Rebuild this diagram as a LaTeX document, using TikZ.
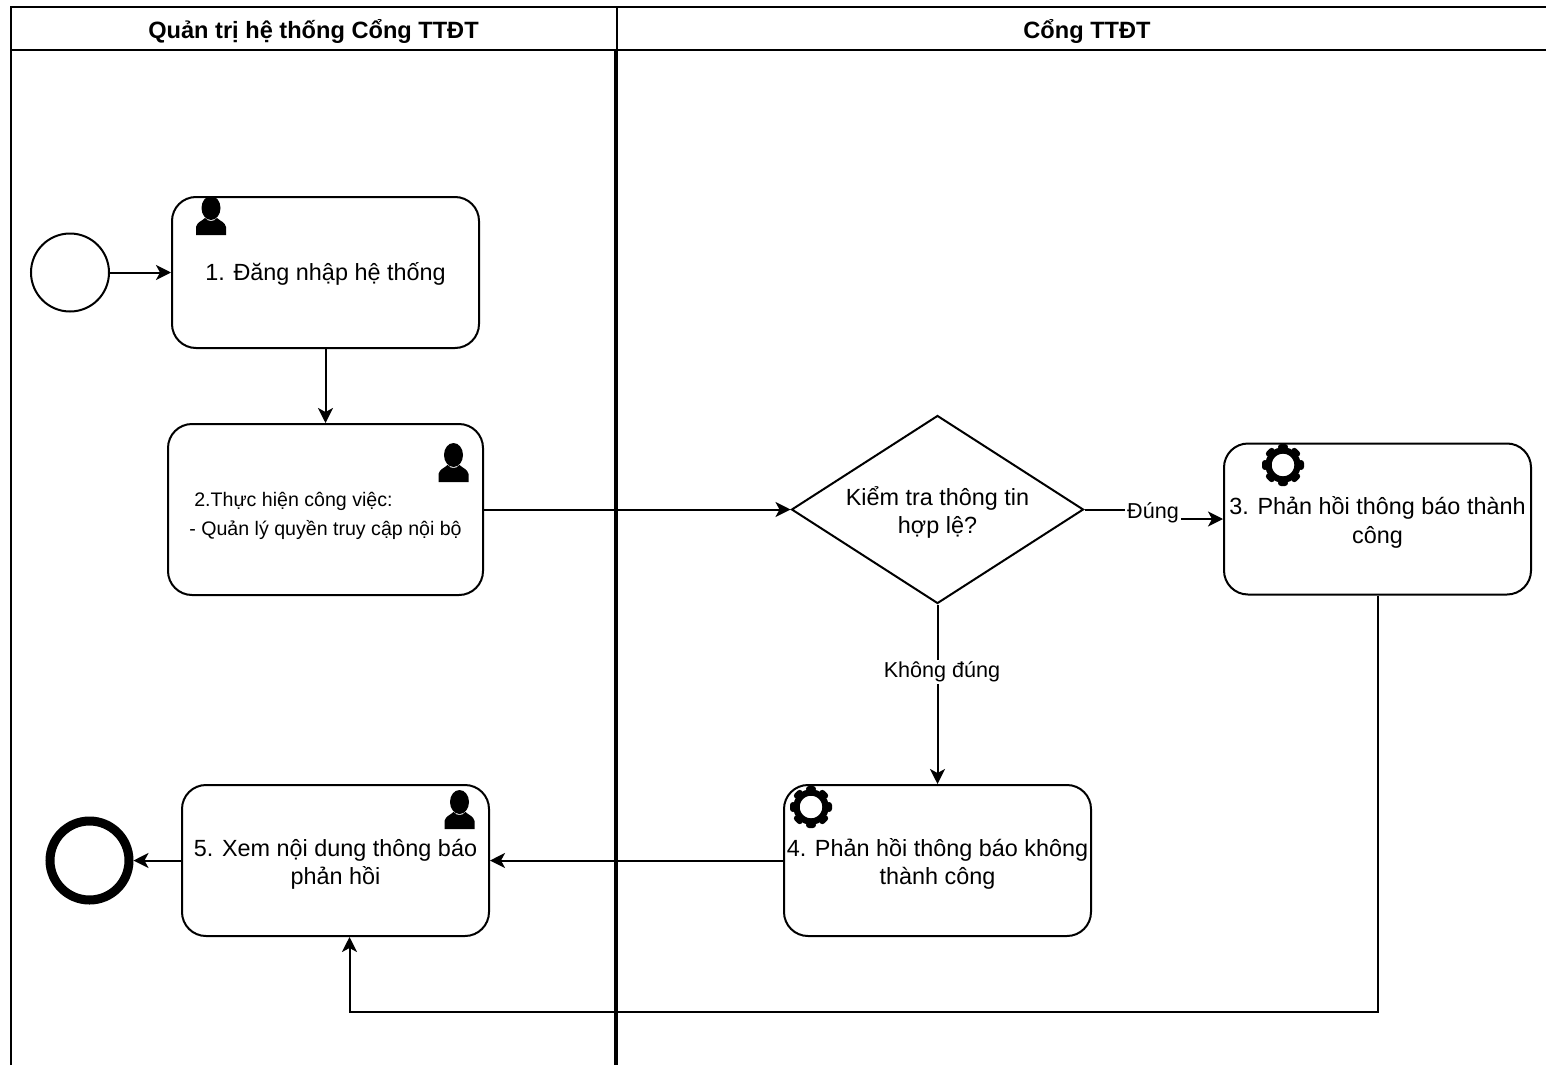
\documentclass[tikz,border=0pt]{standalone}
\usepackage{fontspec}
\setmainfont{Liberation Sans}
\usetikzlibrary{arrows.meta,shapes.geometric,positioning}
\newcommand{\usericon}[1]{
    \fill[black,shift={(#1)}] (0,-8) ellipse (9.5 and 12)
    (-15,19) -- (-15,11) .. controls (-14,6) and (-9,5) .. (-6,2)
    .. controls (-3,6) and (3,6) .. (6,2) .. controls (9,5) and (14,6) .. (15,11) -- (15,19) -- cycle;
}
\newcommand{\gearicon}[1]{
    \draw[black,line width=3.2pt,shift={(#1)}] (0,0) circle (14.5);
    \foreach \a in {0,45,...,315}
        \fill[black,shift={(#1)},rotate=\a,rounded corners=1.5pt] (-5,-21) rectangle (5,-15);
}
\newcommand{\topgap}[1]{\rule{0pt}{#1}}
\begin{document}
\begin{tikzpicture}[x=0.5pt,y=-0.5pt]
    \tikzstyle{boxtext}=[align=center, inner sep=0pt, font=\fontsize{11.7}{14.2}\selectfont]
    \tikzstyle{task}=[boxtext, rectangle, rounded corners=12pt, draw=black, line width=1pt, minimum width=153.5pt, minimum height=75.5pt]
    \tikzstyle{connect}=[-{Stealth[length=7.5pt,width=7.5pt,inset=2pt]}, line width=1pt]
    \tikzstyle{lane}=[line width=1pt]
    \tikzstyle{lanetitle}=[font=\bfseries\fontsize{11.8}{14}\selectfont]
    \tikzstyle{lbl}=[fill=white, inner sep=1pt, font=\fontsize{10.8}{13}\selectfont]
    \useasboundingbox (0,0) rectangle (1546,1065);
    % pool
    \coordinate (nw) at (11,7);
    \coordinate (ne) at (1546,7);
    \coordinate (sw) at (11,1065);
    \coordinate (hl) at (11,50);
    \coordinate (hr) at (1546,50);
    \coordinate (sm) at (617,7);
    \coordinate (hm) at (617,50);
    \coordinate (bm) at (616,1065);
    \draw[lane] (sw) -- (nw) -- (ne) (hl) -- (hr) (sm) -- (hm);
    \draw[line width=2pt] (bm |- hm) -- (bm);
    \node[lanetitle] (lanea) at (313.5,31) {Quản trị hệ thống Cổng TTĐT};
    \node[lanetitle] (laneb) at (1087,31) {Cổng TTĐT};
    % nodes
    \node[circle, draw=black, line width=1pt, minimum size=39pt, inner sep=0pt] (start) at (70,272.5) {};
    \node[task] (login) at (325.5,272.5) {\topgap{10pt}1. Đăng nhập hệ thống};
    \node[task, minimum width=157.5pt, minimum height=85.5pt, font=\fontsize{9.8}{14.5}\selectfont] (work) [below=37pt of login] {\topgap{13.5pt}\hspace*{-32pt}2.Thực hiện công việc:\\- Quản lý quyền truy cập nội bộ};
    \node[boxtext, diamond, draw=black, line width=1pt, minimum width=146pt, minimum height=94pt, aspect=1.56] (check) at (937.5,509.5) {\topgap{12.5pt}Kiểm tra thông tin\\hợp lệ?};
    \node[task] (okmsg) at (1377.5,519) {\topgap{12.5pt}3. Phản hồi thông báo thành\\công};
    \node[task] (failmsg) at (937.5,860.5) {\topgap{12.5pt}4. Phản hồi thông báo không\\thành công};
    \node[task] (view) at (335.5,860.5) {\topgap{12.5pt}5. Xem nội dung thông báo\\phản hồi};
    \node[circle, draw=black, line width=4.5pt, minimum size=39.5pt, inner sep=0pt] (end) at (89.5,860.5) {};
    \coordinate (jog) at (1153,513);
    \coordinate (turn) at (349.5,1012);
    % icons
    \usericon{211,216}
    \usericon{453.5,463}
    \usericon{459.5,810}
    \gearicon{1283,465}
    \gearicon{811,807}
    % connectors
    \path (start) edge [connect] (login)
    (login) edge [connect] (work)
    (work) edge [connect] (check)
    (check) edge [connect] (failmsg)
    (failmsg) edge [connect] (view)
    (view) edge [connect] (end);
    \draw[connect] (check.east) -| (jog) |- (okmsg.west);
    \draw[connect] (okmsg.south) |- (turn) -- ([xshift=7pt]view.south);
    \node[lbl] (yes) at (jog) {Đúng};
    \node[lbl] (no) at (942,672) {Không đúng};
\end{tikzpicture}
\end{document}
